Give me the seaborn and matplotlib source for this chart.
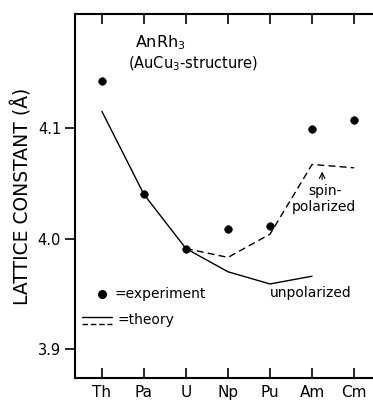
import numpy as np
import pandas as pd
import matplotlib
matplotlib.use("Agg")
import matplotlib.pyplot as plt
import seaborn as sns

# 데이터
elements = ["Th", "Pa", "U", "Np", "Pu", "Am", "Cm"]
experiment = [4.142, 4.040, 3.991, 4.009, 4.011, 4.099, 4.107]
unpolarized_el = ["Th", "Pa", "U", "Np", "Pu", "Am"]
unpolarized = [4.115, 4.040, 3.991, 3.970, 3.959, 3.966]
spin_el = ["U", "Np", "Pu", "Am", "Cm"]
spin_polarized = [3.991, 3.983, 4.004, 4.067, 4.064]

pos = {el: i for i, el in enumerate(elements)}
df_exp = pd.DataFrame({"x": [pos[e] for e in elements], "a": experiment})
df_unp = pd.DataFrame({"x": [pos[e] for e in unpolarized_el], "a": unpolarized})
df_spin = pd.DataFrame({"x": [pos[e] for e in spin_el], "a": spin_polarized})

sns.set_style("white")
plt.rcParams["font.family"] = ["DejaVu Sans"]
plt.rcParams["text.color"] = "black"
plt.rcParams["axes.labelcolor"] = "black"
plt.rcParams["xtick.color"] = "black"
plt.rcParams["ytick.color"] = "black"

fig = plt.figure(figsize=(3.73, 4.0), dpi=100)
ax = fig.add_axes([0.201, 0.055, 0.799, 0.91])

sns.lineplot(data=df_unp, x="x", y="a", ax=ax, color="black", lw=1.0)
sns.lineplot(data=df_spin, x="x", y="a", ax=ax, color="black", lw=1.0,
             linestyle=(0, (5, 3)))
sns.scatterplot(data=df_exp, x="x", y="a", ax=ax, color="black", s=30,
                edgecolor="black", zorder=5)

ax.set_xlim(-0.64, 6.45)
ax.set_ylim(3.874, 4.203)
ax.set_xticks(range(len(elements)))
ax.set_xticklabels(elements, fontsize=11)
ax.set_yticks([3.9, 4.0, 4.1])
ax.set_yticklabels(["3.9", "4.0", "4.1"], fontsize=10.5)
ax.tick_params(axis="x", direction="in", top=True, bottom=True, length=7,
               width=1.2, pad=5)
ax.tick_params(axis="y", direction="out", left=True, length=7, width=1.2, pad=3)
ax.set_xlabel("")
ax.set_ylabel("LATTICE CONSTANT (Å)", fontsize=13.5, labelpad=4)
for s in ["left", "bottom", "top"]:
    ax.spines[s].set_color("black")
    ax.spines[s].set_linewidth(1.5)
ax.spines["right"].set_visible(False)

# 주석
ax.text(0.78, 4.177, "AnRh$_3$", fontsize=11.5, va="center")
ax.text(0.62, 4.158, "(AuCu$_3$-structure)", fontsize=10.5, va="center")
ax.text(4.9, 4.043, "spin-", fontsize=10, va="center")
ax.text(4.52, 4.029, "polarized", fontsize=10, va="center")
ax.annotate("", xy=(5.24, 4.063), xytext=(5.24, 4.051),
            arrowprops=dict(arrowstyle="->", lw=0.8, color="black"))
ax.text(4.0, 3.951, "unpolarized", fontsize=10, va="center")

# 범례
ax.scatter([0], [3.950], color="black", s=30)
ax.text(0.31, 3.950, "=experiment", fontsize=10, va="center")
ax.plot([-0.48, 0.24], [3.929, 3.929], color="black", lw=1.0)
ax.plot([-0.48, 0.24], [3.923, 3.923], color="black", lw=1.0,
        linestyle=(0, (4, 2)))
ax.text(0.36, 3.926, "=theory", fontsize=10, va="center")

fig.savefig("out.png", dpi=100)
